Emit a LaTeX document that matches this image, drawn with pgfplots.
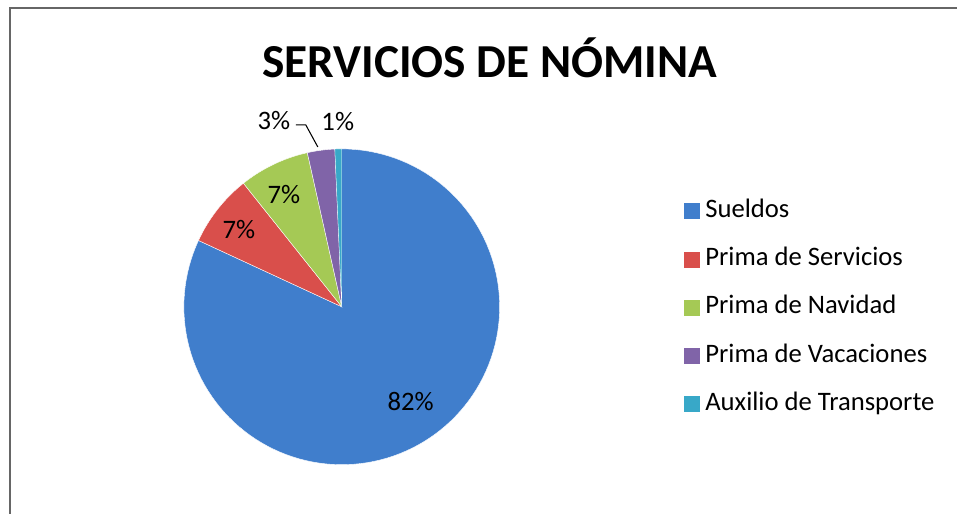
\documentclass[border=0pt]{standalone}
\usepackage{pgfplots}
\pgfplotsset{compat=1.18}
\usepackage{fontspec}
\setmainfont{Carlito}

\definecolor{cSueldos}{RGB}{64,126,204}
\definecolor{cServicios}{RGB}{217,79,75}
\definecolor{cNavidad}{RGB}{165,201,85}
\definecolor{cVacaciones}{RGB}{128,100,168}
\definecolor{cAuxilio}{RGB}{56,168,200}

% porcentajes de cada concepto
\def\vSueldos{81.9}
\def\vServicios{7.4}
\def\vNavidad{7.2}
\def\vVacaciones{2.8}
\def\vAuxilio{0.7}

\begin{document}
\begin{tikzpicture}
\begin{axis}[
    scale only axis,
    width=718.5pt, height=385.5pt,
    xmin=0, xmax=958, ymin=0, ymax=514,
    hide axis, clip=false,
    legend style={
        draw=none, fill=none,
        at={(axis cs:680,318)}, anchor=north west,
        font=\fontsize{20}{24}\selectfont,
        row sep=17.2pt,
        nodes={inner sep=0pt, text height=14pt, text depth=5pt, anchor=west},
    },
    legend cell align=left,
    legend image code/.code={
        \path[draw=none, fill] (0pt,-6pt) rectangle (12pt,6pt);
        \path (16pt,0pt);
    },
]
\pgfmathsetmacro{\aA}{90}
\pgfmathsetmacro{\aB}{90-3.6*\vSueldos}
\pgfmathsetmacro{\aC}{\aB-3.6*\vServicios}
\pgfmathsetmacro{\aD}{\aC-3.6*\vNavidad}
\pgfmathsetmacro{\aE}{\aD-3.6*\vVacaciones}
\pgfmathsetmacro{\aF}{\aE-3.6*\vAuxilio}

% caja fija del dibujo
\path (axis cs:0,0) rectangle (axis cs:958,514);

\addplot[fill=cSueldos, draw=white, line width=0.3pt, domain=\aB:\aA, samples=120, variable=\t]
    ({342+158*cos(\t)},{207+158*sin(\t)}) -- (axis cs:342,207) -- cycle;
\addlegendentry{Sueldos}
\addplot[fill=cServicios, draw=white, line width=0.3pt, domain=\aC:\aB, samples=20, variable=\t]
    ({342+158*cos(\t)},{207+158*sin(\t)}) -- (axis cs:342,207) -- cycle;
\addlegendentry{Prima de Servicios}
\addplot[fill=cNavidad, draw=white, line width=0.3pt, domain=\aD:\aC, samples=20, variable=\t]
    ({342+158*cos(\t)},{207+158*sin(\t)}) -- (axis cs:342,207) -- cycle;
\addlegendentry{Prima de Navidad}
\addplot[fill=cVacaciones, draw=white, line width=0.3pt, domain=\aE:\aD, samples=10, variable=\t]
    ({342+158*cos(\t)},{207+158*sin(\t)}) -- (axis cs:342,207) -- cycle;
\addlegendentry{Prima de Vacaciones}
\addplot[fill=cAuxilio, draw=white, line width=0.2pt, domain=\aF:\aE, samples=5, variable=\t]
    ({342+158*cos(\t)},{207+158*sin(\t)}) -- (axis cs:342,207) -- cycle;
\addlegendentry{Auxilio de Transporte}

% linea guia del 3%
\addplot[black, line width=0.8pt, forget plot] coordinates {(296,389) (306,389) (318,367)};

% borde del area del grafico
\draw[gray!80!black, line width=1pt] (axis cs:10,0) |- (axis cs:958,506);

\node[font=\bfseries\fontsize{35.5}{40}\selectfont] at (axis cs:490,456) {SERVICIOS DE NÓMINA};
\begin{scope}[every node/.style={font=\fontsize{20}{24}\selectfont}]
\node at (axis cs:411,112) {82\%};
\node at (axis cs:239,284) {7\%};
\node at (axis cs:284,319) {7\%};
\node at (axis cs:274,393) {3\%};
\node at (axis cs:338,392) {1\%};
\end{scope}
\end{axis}
\end{tikzpicture}
\end{document}
